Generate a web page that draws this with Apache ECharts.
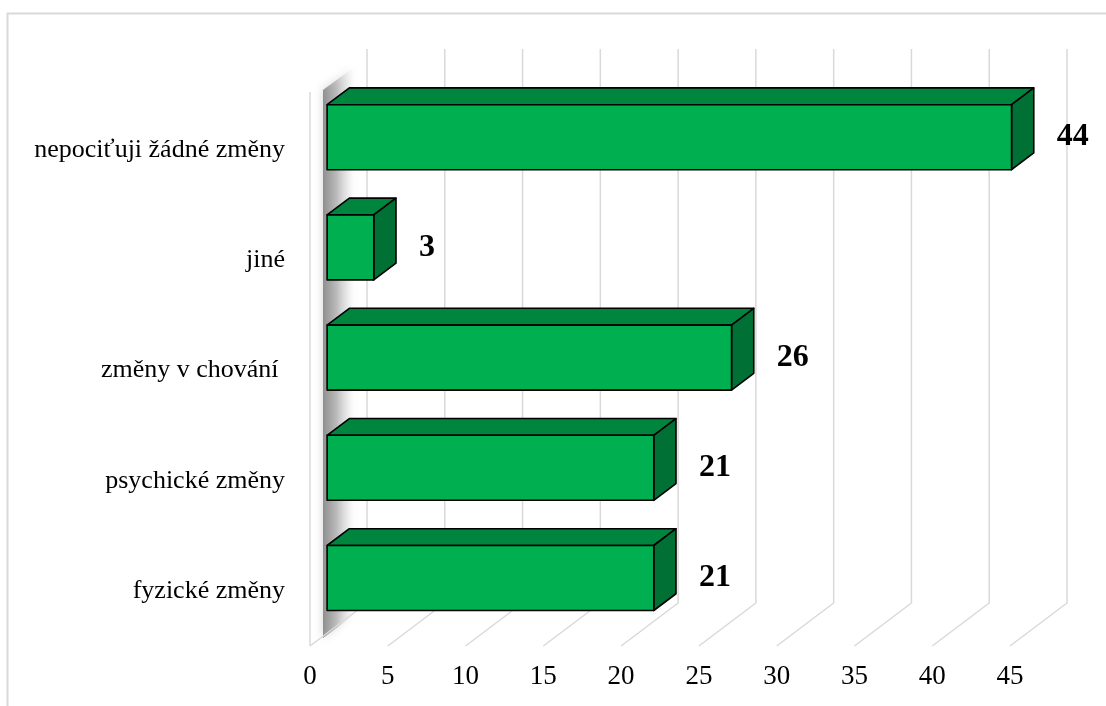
<!DOCTYPE html>
<html>
<head>
<meta charset="utf-8">
<script src="https://cdn.jsdelivr.net/npm/echarts@6/dist/echarts.min.js"></script>
<style>
  html, body { margin: 0; padding: 0; background: #fff; }
  #chart { width: 1106px; height: 706px; }
</style>
</head>
<body>
<div id="chart"></div>
<script>
// Answers, listed bottom to top as they appear on the category axis
const categories = ['fyzické změny', 'psychické změny', 'změny v chování ', 'jiné', 'nepociťuji žádné změny'];
const values = [21, 21, 26, 3, 44];
// Value axis ticks (also used for the wall and floor gridlines)
const tickValues = [0, 5, 10, 15, 20, 25, 30, 35, 40, 45];

const FONT = '"Liberation Serif", "Times New Roman", serif';
const GRID_COLOR = '#d9d9d9';
// 3D depth of the floor (front -> back wall) and of the bars within it
const DEPTH_X = 57, DEPTH_Y = -43;
const BAR_FRONT = 0.3, BAR_BACK = 0.69;
const BAR_FILL = 0.59;

const chart = echarts.init(document.getElementById('chart'), null, { renderer: 'canvas' });

function wallsAndFloor(params, api) {
  const v = api.value(0);
  const base = api.coord([v, 0]);
  const band = api.size([0, 1])[1];
  const last = api.coord([v, categories.length - 1]);
  const yBottom = base[1] + band / 2;
  const yTop = last[1] - band / 2 - 3;
  const x = base[0];
  const style = { stroke: GRID_COLOR, lineWidth: 1.5, fill: null };
  const children = [
    { type: 'polyline', shape: { points: [[x, yBottom], [x + DEPTH_X, yBottom + DEPTH_Y], [x + DEPTH_X, yTop + DEPTH_Y]] }, style: style }
  ];
  if (v === 0) {
    // left side wall: front edge and the soft shadow cast on it
    children.push({ type: 'line', shape: { x1: x, y1: yBottom, x2: x, y2: yTop }, style: style });
    const sx0 = x + 13, sx1 = x + 43;
    children.unshift({
      type: 'polygon',
      shape: { points: [
        [sx0, yTop - 2], [sx1, yTop - 24],
        [sx1, yBottom - 30], [sx0, yBottom - 8]
      ] },
      style: {
        fill: new echarts.graphic.LinearGradient(0, 0, 1, 0, [
          { offset: 0, color: 'rgba(105,105,105,0.7)' },
          { offset: 0.45, color: 'rgba(150,150,150,0.5)' },
          { offset: 1, color: 'rgba(235,235,235,0.1)' }
        ]),
        shadowBlur: 10,
        shadowColor: 'rgba(150,150,150,0.6)'
      }
    });
  }
  return { type: 'group', children: children };
}

function bar3d(params, api) {
  const cat = api.value(1);
  const val = api.value(0);
  const p0 = api.coord([0, cat]);
  const p1 = api.coord([val, cat]);
  const band = api.size([0, 1])[1];
  const h = band * BAR_FILL;
  const fx = DEPTH_X * BAR_FRONT, fy = DEPTH_Y * BAR_FRONT;
  const bx = DEPTH_X * BAR_BACK, by = DEPTH_Y * BAR_BACK;
  const dx = bx - fx, dy = by - fy;
  const xl = p0[0] + fx, xr = p1[0] + fx;
  const yt = p0[1] + fy - h / 2, yb = p0[1] + fy + h / 2;
  const edge = { stroke: '#000', lineWidth: 1.6, lineJoin: 'round' };
  return {
    type: 'group',
    children: [
      { type: 'polygon', shape: { points: [[xl, yt], [xr, yt], [xr + dx, yt + dy], [xl + dx, yt + dy]] },
        style: Object.assign({ fill: '#00853f' }, edge) },
      { type: 'polygon', shape: { points: [[xr, yt], [xr + dx, yt + dy], [xr + dx, yb + dy], [xr, yb]] },
        style: Object.assign({ fill: '#007034' }, edge) },
      { type: 'rect', shape: { x: xl, y: yt, width: xr - xl, height: yb - yt },
        style: Object.assign({ fill: '#00b050' }, edge) },
      { type: 'text', x: xr + dx + 23, y: (yt + yb) / 2,
        style: { text: String(val), font: 'bold 32px ' + FONT, fill: '#000',
                 textAlign: 'left', textVerticalAlign: 'middle' } }
    ]
  };
}

chart.setOption({
  animation: false,
  backgroundColor: '#fff',
  graphic: [{
    type: 'rect', z: 0, silent: true,
    shape: { x: 7.5, y: 13.5, width: 1110, height: 720 },
    style: { fill: null, stroke: GRID_COLOR, lineWidth: 2 }
  }],
  grid: { left: 310, top: 95, width: 700, height: 551, containLabel: false },
  xAxis: {
    type: 'value', min: 0, max: 45, interval: 5,
    axisLine: { show: false }, axisTick: { show: false }, splitLine: { show: false },
    axisLabel: { fontFamily: FONT, fontSize: 27, color: '#000', margin: 17 }
  },
  yAxis: {
    type: 'category', data: categories,
    axisLine: { show: false }, axisTick: { show: false }, splitLine: { show: false },
    axisLabel: { fontFamily: FONT, fontSize: 26, color: '#000', margin: 25 }
  },
  series: [
    {
      type: 'custom', renderItem: wallsAndFloor, z: 1, silent: true,
      data: tickValues.map(v => [v]), encode: { x: 0 }, clip: false
    },
    {
      type: 'custom', renderItem: bar3d, z: 3, clip: false,
      data: values.map((v, i) => [v, i]), encode: { x: 0, y: 1 }
    }
  ]
});
</script>
</body>
</html>
